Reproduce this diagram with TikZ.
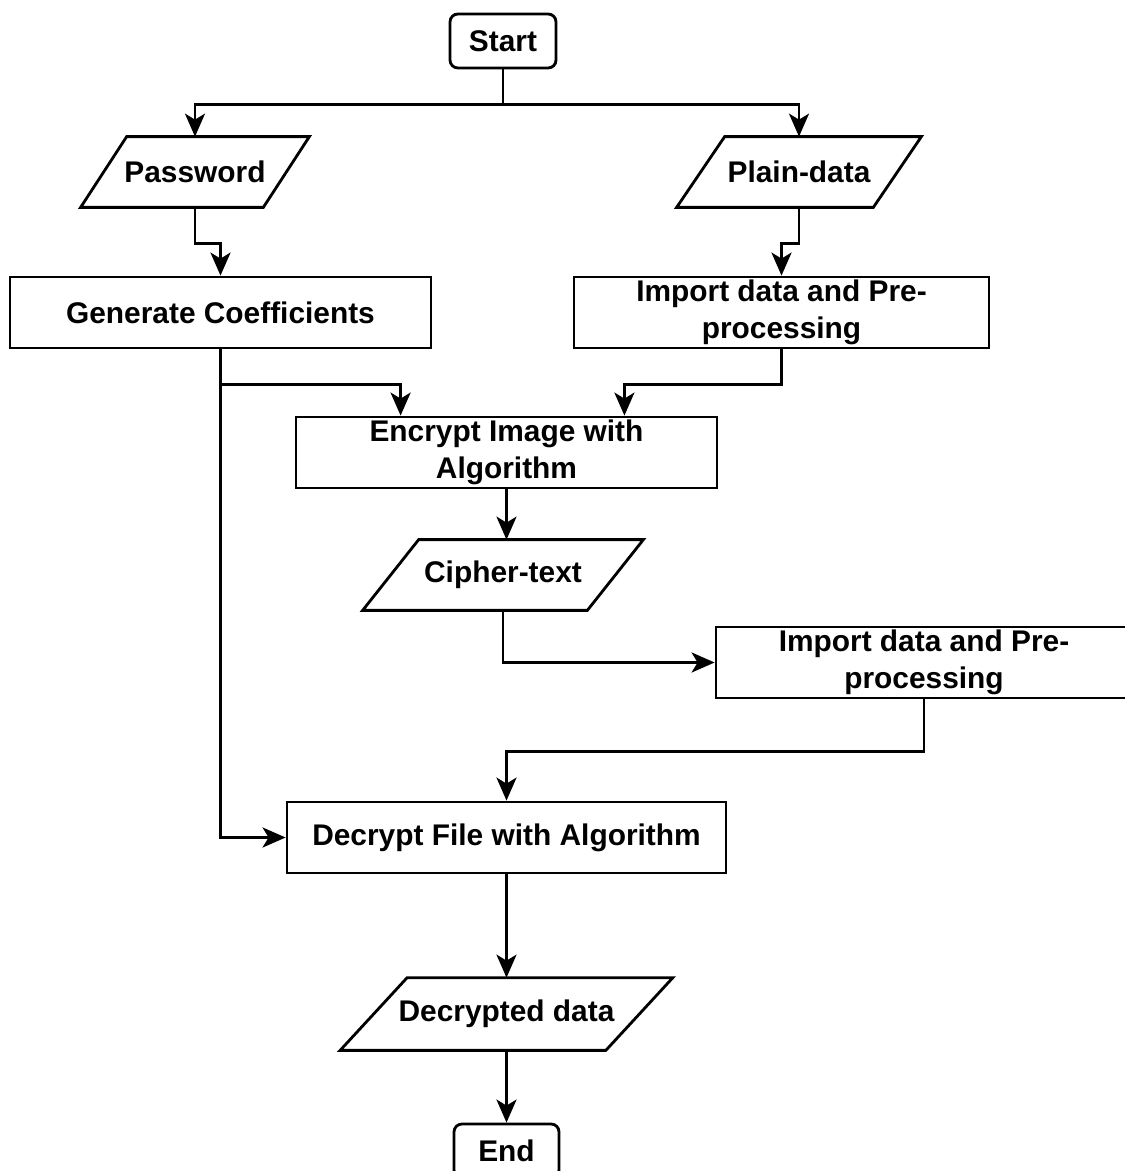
\documentclass[tikz,border=0pt]{standalone}
\usepackage{fontspec}
\setmainfont{Liberation Sans}
\usepackage{tikz}
\usetikzlibrary{arrows.meta}
\pgfdeclarelayer{edgelayer}
\pgfdeclarelayer{nodelayer}
\pgfsetlayers{edgelayer,nodelayer,main}
\tikzstyle{none} = []
\tikzstyle{box text} = [font=\bfseries\fontsize{17pt}{21pt}\selectfont, align=center, inner sep=0pt]
\tikzstyle{terminal} = [box text, draw, line width=1.6pt, rounded corners=4.5pt, minimum width=2.12cm, minimum height=1.08cm]
\tikzstyle{process} = [box text, draw, line width=1.6pt, minimum height=1.42cm]
\tikzstyle{data} = [box text, minimum height=1.4cm]
\tikzstyle{data outline} = [line width=1.6pt, line join=miter]
\tikzstyle{flow edge} = [line width=1.6pt, -{Stealth[length=0.46cm, width=0.4cm, inset=0.12cm]}]

\begin{document}
\begin{tikzpicture}
	\useasboundingbox (0, 0) rectangle (22.48, -23.42);
	\begin{pgfonlayer}{nodelayer}
		\node [style=terminal] (0) at (10.06, -0.82) {Start};
		\node [style=data, minimum width=3.64cm] (1) at (3.9, -3.44) {Password};
		\node [style=data, minimum width=3.92cm] (2) at (15.98, -3.44) {Plain-data};
		\node [style=process, minimum width=8.42cm] (3) at (4.41, -6.25) {Generate Coefficients};
		\node [style=process, minimum width=8.3cm] (4) at (15.63, -6.25) {Import data and Pre-\\processing};
		\node [style=process, minimum width=8.42cm] (5) at (10.13, -9.05) {Encrypt Image with\\Algorithm};
		\node [style=data, minimum width=4.48cm] (6) at (10.06, -11.5) {Cipher-text};
		\node [style=process, minimum width=8.32cm] (7) at (18.48, -13.25) {Import data and Pre-\\processing};
		\node [style=process, minimum width=8.78cm] (8) at (10.13, -16.75) {Decrypt File with Algorithm};
		\node [style=data, minimum width=5.3cm, minimum height=1.44cm] (9) at (10.13, -20.28) {Decrypted data};
		\node [style=terminal, minimum width=2.1cm] (10) at (10.13, -23.02) {End};
		% slanted input/output boxes
		\foreach \n/\s in {1/0.46, 2/0.48, 6/0.56, 9/0.67}
			\draw [style=data outline] ([xshift=\s cm]\n.north west) -- ([xshift=\s cm]\n.north east) -- ([xshift=-\s cm]\n.south east) -- ([xshift=-\s cm]\n.south west) -- cycle;
	\end{pgfonlayer}
	\begin{pgfonlayer}{edgelayer}
		\draw [style=flow edge] (0.south) -- ++(0, -0.7) -| (1.north);
		\draw [style=flow edge] (0.south) -- ++(0, -0.7) -| (2.north);
		\draw [style=flow edge] (1.south) -- ++(0, -0.72) -| (3.north);
		\draw [style=flow edge] (2.south) -- ++(0, -0.72) -| (4.north);
		\draw [style=flow edge] (3.south) -- ++(0, -0.7) -| ([xshift=2.12cm]5.north west);
		\draw [style=flow edge] (4.south) -- ++(0, -0.7) -| ([xshift=-1.88cm]5.north east);
		\draw [style=flow edge] (3.south) |- (8.west);
		\draw [style=flow edge] (5.south) -- (5.south |- 6.north);
		\draw [style=flow edge] (6.south) |- (7.west);
		\draw [style=flow edge] (7.south) -- ++(0, -1.04) -| (8.north);
		\draw [style=flow edge] (8.south) -- (9.north);
		\draw [style=flow edge] (9.south) -- (10.north);
	\end{pgfonlayer}
\end{tikzpicture}
\end{document}
